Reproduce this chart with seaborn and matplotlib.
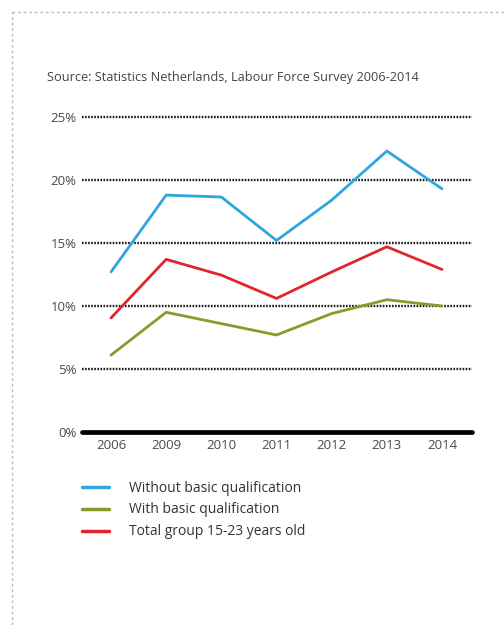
import matplotlib
matplotlib.use("Agg")
import matplotlib.pyplot as plt
from matplotlib.lines import Line2D
import seaborn as sns
import pandas as pd

years = ["2006", "2009", "2010", "2011", "2012", "2013", "2014"]
without_basic = [12.7, 18.8, 18.65, 15.2, 18.4, 22.3, 19.3]
with_basic = [6.1, 9.5, 8.6, 7.7, 9.4, 10.5, 10.0]
total_group = [9.05, 13.7, 12.45, 10.6, 12.7, 14.7, 12.9]
series_names = ["Without basic qualification", "With basic qualification",
                "Total group 15-23 years old"]
y_ticks = [0, 5, 10, 15, 20, 25]

colors = ["#2fa6dc", "#8c9a2c", "#e0262d"]

sns.set_style("white")
plt.rcParams["font.family"] = ["Open Sans", "DejaVu Sans"]

rows = []
for name, vals in zip(series_names, [without_basic, with_basic, total_group]):
    for i, v in enumerate(vals):
        rows.append({"pos": i, "value": v, "series": name})
df = pd.DataFrame(rows)

W, H = 504, 625
fig = plt.figure(figsize=(W / 100, H / 100), dpi=100)

# plot area spans x 82..472, y 117..432 (pixels)
ax = fig.add_axes([82 / W, 1 - 432 / H, (472 - 82) / W, (432 - 117) / H])
ax.set_xlim((82 - 111) / 55.17, (472 - 111) / 55.17)
ax.set_ylim(0, 25)

for t in y_ticks[1:]:
    ax.axhline(t, color="#1a1a1a", lw=1.7, ls=(0, (0.7, 0.6)), clip_on=False, zorder=1)
ax.axhline(0, color="#000000", lw=3.4, clip_on=False, zorder=1)

sns.lineplot(data=df, x="pos", y="value", hue="series", hue_order=series_names,
             palette=colors, lw=2.0, ax=ax, legend=False, zorder=3)

for s in ax.spines.values():
    s.set_visible(False)
ax.set_xlabel("")
ax.set_ylabel("")
ax.set_xticks(range(len(years)))
ax.set_xticklabels(years)
ax.set_yticks(y_ticks)
ax.set_yticklabels([f"{t}%" for t in y_ticks])
ax.tick_params(axis="both", length=0, labelsize=9.5, colors="#4a4a4a")
ax.tick_params(axis="x", pad=5)
ax.tick_params(axis="y", pad=4)

fig.text(47 / W, 1 - 78 / H, "Source: Statistics Netherlands, Labour Force Survey 2006-2014",
         fontsize=9.2, color="#444444", va="center", ha="left")

handles = [Line2D([], [], color=c, lw=2.5) for c in colors]
fig.legend(handles, series_names, loc="upper left",
           bbox_to_anchor=(69 / W, 1 - 468 / H), frameon=False,
           fontsize=10, handlelength=2.0, handletextpad=1.4,
           labelspacing=0.5, labelcolor="#333333")

# dashed frame along the left and top edges
frame_kw = dict(color="#bbbbbb", lw=1, ls=(0, (2, 2)))
fig.add_artist(Line2D([12 / W, 12 / W], [0, 1 - 12 / H], transform=fig.transFigure, **frame_kw))
fig.add_artist(Line2D([12 / W, 1], [1 - 12 / H, 1 - 12 / H], transform=fig.transFigure, **frame_kw))

fig.savefig("out.png", dpi=100, facecolor="white")
